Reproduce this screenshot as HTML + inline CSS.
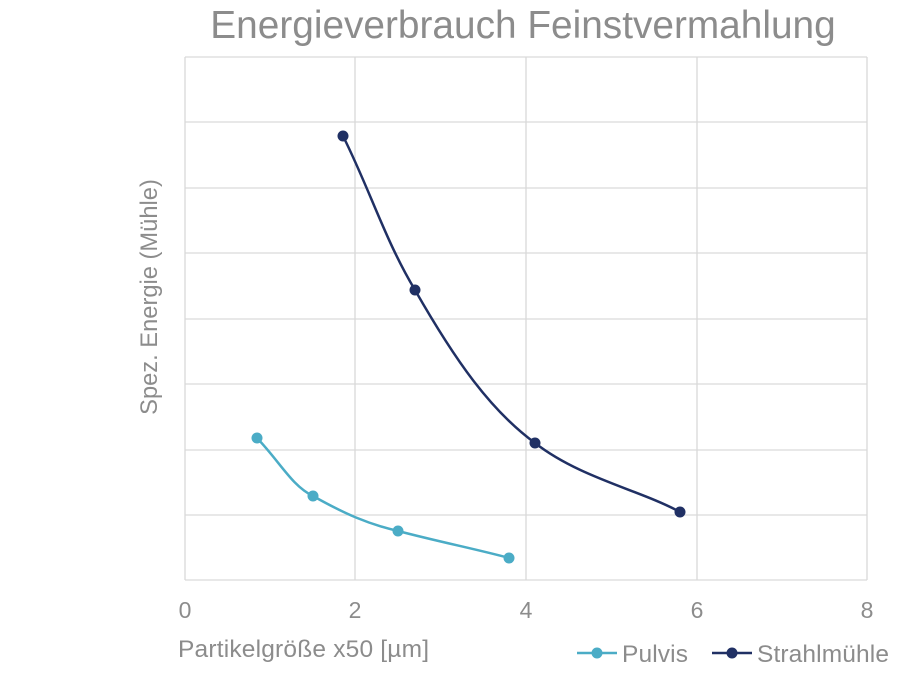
<!DOCTYPE html>
<html><head><meta charset="utf-8"><style>
body{margin:0;background:#fff;}
svg{display:block;font-family:"Liberation Sans",sans-serif;}
</style></head><body>
<svg width="910" height="683" viewBox="0 0 910 683">
<rect width="910" height="683" fill="#fff"/>
<text x="523" y="38" text-anchor="middle" font-size="38.8" fill="#8c8c8c">Energieverbrauch Feinstvermahlung</text>
<g stroke="#d9d9d9" stroke-width="1.3" fill="none">
<line x1="185" y1="57" x2="867" y2="57"/>
<line x1="185" y1="122" x2="867" y2="122"/>
<line x1="185" y1="188" x2="867" y2="188"/>
<line x1="185" y1="253" x2="867" y2="253"/>
<line x1="185" y1="319" x2="867" y2="319"/>
<line x1="185" y1="384" x2="867" y2="384"/>
<line x1="185" y1="450" x2="867" y2="450"/>
<line x1="185" y1="515" x2="867" y2="515"/>
<line x1="185" y1="580" x2="867" y2="580"/>
<line x1="185" y1="57" x2="185" y2="580"/>
<line x1="355" y1="57" x2="355" y2="580"/>
<line x1="526" y1="57" x2="526" y2="580"/>
<line x1="697" y1="57" x2="697" y2="580"/>
<line x1="867" y1="57" x2="867" y2="580"/>
</g>
<g font-size="23" fill="#8c8c8c" text-anchor="middle">
<text x="185" y="618">0</text><text x="355" y="618">2</text><text x="526" y="618">4</text><text x="697" y="618">6</text><text x="867" y="618">8</text>
</g>
<text x="178" y="657" font-size="24.5" textLength="251" fill="#8c8c8c">Partikelgröße x50 [µm]</text>
<text transform="translate(157,297) rotate(-90)" text-anchor="middle" font-size="23.7" fill="#8c8c8c">Spez. Energie (Mühle)</text>
<path d="M257,438 C280,462 292,486 313,496 C345,514 368,524 398,531 C440,542 480,550 509,558" fill="none" stroke="#4bacc6" stroke-width="2.5"/>
<path d="M343,136 C370,190 385,240 415,290 C455,360 490,410 535,443 C580,478 640,490 680,512" fill="none" stroke="#203064" stroke-width="2.5"/>
<g fill="#4bacc6"><circle cx="257" cy="438" r="5.5"/><circle cx="313" cy="496" r="5.5"/><circle cx="398" cy="531" r="5.5"/><circle cx="509" cy="558" r="5.5"/></g>
<g fill="#203064"><circle cx="343" cy="136" r="5.5"/><circle cx="415" cy="290" r="5.5"/><circle cx="535" cy="443" r="5.5"/><circle cx="680" cy="512" r="5.5"/></g>
<line x1="577" y1="653" x2="617" y2="653" stroke="#4bacc6" stroke-width="2.5"/><circle cx="597" cy="653" r="5.5" fill="#4bacc6"/>
<text x="622" y="662" font-size="24.5" textLength="66" fill="#8c8c8c">Pulvis</text>
<line x1="712" y1="653" x2="752" y2="653" stroke="#203064" stroke-width="2.5"/><circle cx="732" cy="653" r="5.5" fill="#203064"/>
<text x="757" y="662" font-size="24.5" textLength="132" fill="#8c8c8c">Strahlmühle</text>
</svg>
</body></html>
